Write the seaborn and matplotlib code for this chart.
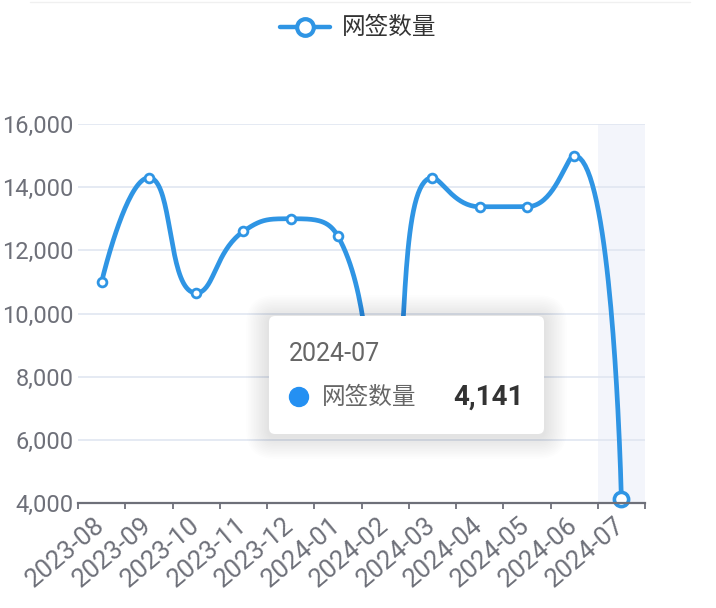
import numpy as np
import pandas as pd
import seaborn as sns
import matplotlib.pyplot as plt
from matplotlib.patches import FancyBboxPatch, Circle
from matplotlib.lines import Line2D

# data (2024-02 is hidden behind the tooltip, estimated)
months = ['2023-08', '2023-09', '2023-10', '2023-11', '2023-12', '2024-01',
          '2024-02', '2024-03', '2024-04', '2024-05', '2024-06', '2024-07']
signed = [11000, 14300, 10650, 12600, 13000, 12450, 6500, 14300, 13380, 13380, 15000, 4141]
y_ticks = [4000, 6000, 8000, 10000, 12000, 14000, 16000]
series_name = '网签数量'
hover_idx = 11

BLUE = '#2f95e4'
GRAY = '#6e7079'

sns.set_style('white')
plt.rcParams['font.family'] = ['Roboto', 'Noto Sans CJK SC', 'DejaVu Sans']


def echarts_smooth(px, py, smooth=0.5):
    # bezier segments like echarts' smooth line (works in pixel-like units)
    n = len(px)
    segs = []
    cpx0, cpy0 = px[0], py[0]
    for i in range(1, n):
        x, y = px[i], py[i]
        prevX, prevY = px[i - 1], py[i - 1]
        if i == n - 1:
            cpx1, cpy1 = x, y
            ncx, ncy = x, y
        else:
            nextX, nextY = px[i + 1], py[i + 1]
            vx, vy = nextX - prevX, nextY - prevY
            lp = np.hypot(x - prevX, y - prevY)
            ln = np.hypot(nextX - x, nextY - y)
            r = ln / (ln + lp)
            ncx = x + vx * smooth * r
            ncy = y + vy * smooth * r
            ncx = max(min(ncx, max(nextX, x)), min(nextX, x))
            ncy = max(min(ncy, max(nextY, y)), min(nextY, y))
            vx, vy = ncx - x, ncy - y
            cpx1 = x - vx * lp / ln
            cpy1 = y - vy * lp / ln
            cpx1 = max(min(cpx1, max(prevX, x)), min(prevX, x))
            cpy1 = max(min(cpy1, max(prevY, y)), min(prevY, y))
            vx, vy = x - cpx1, y - cpy1
            ncx = x + vx * ln / lp
            ncy = y + vy * ln / lp
        segs.append(((prevX, prevY), (cpx0, cpy0), (cpx1, cpy1), (x, y)))
        cpx0, cpy0 = ncx, ncy
    return segs


# pixel scale of the plot area, so smoothing matches the screen geometry
sx, sy = 47.25, 0.0316
px = np.arange(len(months)) * sx
py = np.array(signed) * sy
t = np.linspace(0, 1, 40)[:, None]
pts = []
for p0, p1, p2, p3 in echarts_smooth(px, py):
    p0, p1, p2, p3 = map(np.array, (p0, p1, p2, p3))
    b = (1 - t) ** 3 * p0 + 3 * (1 - t) ** 2 * t * p1 + 3 * (1 - t) * t ** 2 * p2 + t ** 3 * p3
    pts.append(b)
pts = np.vstack(pts)
curve = pd.DataFrame({'x': pts[:, 0] / sx, 'y': pts[:, 1] / sy})

fig = plt.figure(figsize=(7.16, 6.08), dpi=100)
ax = fig.add_axes([78 / 716, 105 / 608, 567 / 716, 379 / 608])

ax.axvspan(hover_idx - 0.5, hover_idx + 0.5, color='#f3f5fb', zorder=0.5, lw=0)
sns.lineplot(data=curve, x='x', y='y', sort=False, estimator=None, color=BLUE,
             lw=3.4, ax=ax, zorder=3)
pt_df = pd.DataFrame({'x': np.arange(len(months)), 'y': signed})
sns.scatterplot(data=pt_df.iloc[:-1], x='x', y='y', s=40, color='white',
                edgecolor=BLUE, linewidth=2, ax=ax, zorder=4, clip_on=False)
sns.scatterplot(data=pt_df.iloc[-1:], x='x', y='y', s=105, color='white',
                edgecolor=BLUE, linewidth=2.6, ax=ax, zorder=4, clip_on=False)

ax.set_xlim(-0.5, len(months) - 0.5)
ax.set_ylim(4000, 16000)
ax.set_yticks(y_ticks)
ax.set_yticklabels([f'{v:,}' for v in y_ticks])
ax.yaxis.grid(True, color='#e0e6f1', lw=1.2)
ax.set_axisbelow(True)
for s in ['top', 'right', 'left']:
    ax.spines[s].set_visible(False)
ax.spines['bottom'].set_color(GRAY)
ax.spines['bottom'].set_linewidth(1.6)
ax.spines['bottom'].set_zorder(5)
ax.tick_params(axis='y', length=0, pad=3, labelsize=17, labelcolor=GRAY)

ax.set_xticks(np.arange(len(months) + 1) - 0.5)
ax.set_xticklabels([])
ax.tick_params(axis='x', which='major', bottom=True, length=4.5, width=1.3, color=GRAY)
ax.set_xticks(np.arange(len(months)), minor=True)
ax.set_xticklabels(months, minor=True, rotation=40, ha='right', va='center',
                   rotation_mode='anchor')
ax.tick_params(axis='x', which='minor', bottom=True, length=0, pad=14,
               labelsize=18.5, labelcolor=GRAY)
ax.set_xlabel('')
ax.set_ylabel('')

# overlay in pixel units for legend and tooltip
ov = fig.add_axes([0, 0, 1, 1], zorder=10)
ov.set_xlim(0, 716)
ov.set_ylim(608, 0)
ov.axis('off')
ov.patch.set_alpha(0)

ov.plot([30, 690], [2, 2], color='#f0f0f0', lw=1)
ov.add_line(Line2D([280, 330], [27, 27], color=BLUE, lw=3.2))
ov.plot([305], [27], marker='o', ms=12, mfc='white', mec=BLUE, mew=3)
ov.text(342, 27, series_name, fontsize=17, color='#333333', va='center', ha='left')

# tooltip
bx, by, bw, bh = 269, 316, 275, 118
for k in range(14):
    grow = 2 + k * 1.6
    ov.add_patch(FancyBboxPatch((bx + 6, by + 8), bw - 12, bh - 12,
                                boxstyle=f'round,pad={6 + grow}', fc='black',
                                ec='none', alpha=0.008))
ov.add_patch(FancyBboxPatch((bx + 6, by + 6), bw - 12, bh - 12,
                            boxstyle='round,pad=6', fc='white', ec='none'))
ov.text(289, 354, months[hover_idx], fontsize=18, color='#666666', va='center', ha='left')
ov.add_patch(Circle((299, 397), 9.5, color='#2490f2'))
ov.text(322, 397, series_name, fontsize=17, color='#666666', va='center', ha='left')
ov.text(524, 397, f'{signed[hover_idx]:,}', fontsize=20, fontweight='bold',
        color='#333333', va='center', ha='right')

fig.savefig('out.png', dpi=100)
